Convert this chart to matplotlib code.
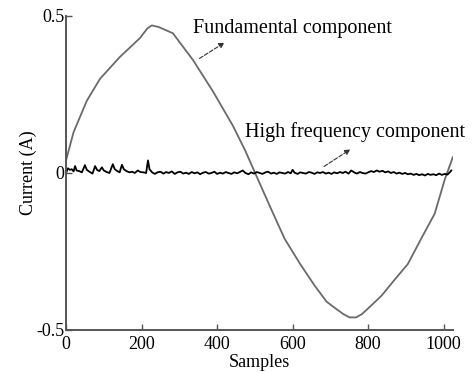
import numpy as np
import matplotlib.pyplot as plt

plt.rcParams['font.family'] = ['Liberation Serif', 'DejaVu Serif']

# fundamental component
fund_x = [0, 20, 55, 90, 143, 196, 215, 227, 245, 283, 336, 389, 442, 475, 508,
          545, 579, 620, 659, 690, 712, 735, 751, 768, 783, 810, 836, 870, 905,
          940, 976, 1003, 1024]
fund_y = [0.04, 0.13, 0.23, 0.30, 0.37, 0.43, 0.46, 0.47, 0.465, 0.445, 0.36,
          0.26, 0.15, 0.07, -0.02, -0.12, -0.21, -0.29, -0.36, -0.41, -0.43,
          -0.45, -0.46, -0.46, -0.45, -0.42, -0.39, -0.34, -0.29, -0.21, -0.13,
          -0.02, 0.05]

# high frequency component
hf_x = [0, 5, 10, 15, 20, 24, 28, 35, 42, 50, 55, 62, 70, 77, 82, 88, 95, 100,
        108, 115, 124, 129, 136, 142, 148, 153, 160, 168, 175, 182, 190, 197,
        205, 212, 217, 221, 228, 235, 242, 250, 258, 265, 272, 280, 288, 295,
        303, 310, 318, 325, 333, 340, 348, 355, 363, 370, 378, 385, 393, 400,
        408, 415, 423, 430, 438, 445, 453, 460, 468, 475, 483, 490, 498, 505,
        513, 520, 528, 535, 543, 550, 558, 565, 573, 580, 588, 595, 600, 605,
        613, 620, 628, 635, 643, 650, 658, 665, 673, 680, 688, 695, 703, 710,
        718, 725, 733, 740, 748, 755, 763, 770, 778, 785, 793, 800, 808, 815,
        823, 830, 838, 845, 853, 860, 868, 875, 883, 890, 898, 905, 913, 920,
        928, 935, 943, 950, 958, 965, 973, 980, 988, 995, 1003, 1010, 1016, 1020]
hf_y = [0.000, 0.015, 0.010, 0.012, 0.005, 0.022, 0.008, 0.006, 0.002, 0.025,
        0.010, 0.004, -0.002, 0.022, 0.010, 0.006, 0.018, 0.008, 0.003, 0.000,
        0.028, 0.012, 0.006, 0.002, 0.026, 0.012, 0.006, 0.002, 0.004, 0.000,
        0.008, 0.003, 0.002, 0.000, 0.040, 0.012, 0.002, -0.003, 0.002, 0.004,
        -0.002, 0.003, 0.000, 0.005, -0.003, 0.002, 0.004, -0.002, 0.001,
        -0.003, 0.003, -0.001, 0.002, -0.004, 0.001, 0.003, -0.002, 0.000,
        0.004, -0.003, 0.001, -0.002, 0.003, 0.000, -0.003, 0.002, -0.001,
        0.003, 0.008, 0.000, -0.004, 0.002, -0.002, 0.003, 0.000, -0.003,
        0.002, 0.004, -0.002, 0.001, -0.003, 0.002, 0.000, -0.002, 0.003,
        -0.001, 0.010, 0.001, -0.003, 0.002, 0.000, -0.002, 0.003, 0.001,
        -0.003, 0.002, 0.000, 0.003, -0.002, 0.001, -0.003, 0.002, -0.001,
        0.003, 0.000, 0.004, -0.002, 0.008, 0.002, -0.002, 0.003, 0.000,
        -0.002, 0.002, 0.006, 0.003, 0.008, 0.004, 0.007, 0.002, 0.005, 0.000,
        0.003, -0.002, 0.001, -0.003, 0.000, -0.004, -0.002, -0.006, -0.003,
        -0.007, -0.004, -0.008, -0.003, -0.006, -0.004, -0.007, -0.002, -0.006,
        -0.003, -0.005, 0.002, 0.008]

fig = plt.figure(figsize=(4.75, 3.72), dpi=100)
ax = fig.add_axes([0.139, 0.113, 0.815, 0.844])

ax.plot(fund_x, fund_y, color='#6a6a6a', lw=1.3)
ax.plot(hf_x, hf_y, color='black', lw=1.3)

ax.set_xlim(0, 1025)
ax.set_ylim(-0.5, 0.5)
ax.set_xticks([0, 200, 400, 600, 800, 1000])
ax.set_yticks([-0.5, 0, 0.5])
ax.set_yticklabels(['-0.5', '0', '0.5'])
ax.tick_params(direction='in', length=4, width=1, color='#555555',
               labelsize=13)
ax.tick_params(axis='x', pad=4)
ax.tick_params(axis='y', pad=1)
for s in ['top', 'right']:
    ax.spines[s].set_visible(False)
for s in ['left', 'bottom']:
    ax.spines[s].set_color('#555555')
    ax.spines[s].set_linewidth(1.4)

ax.set_xlabel('Samples', fontsize=13, labelpad=1)
ax.set_ylabel('Current (A)', fontsize=13, labelpad=0)

ax.annotate('', xy=(426, 0.42), xytext=(347, 0.36),
            arrowprops=dict(arrowstyle='-|>', linestyle='--', color='#333333',
                            lw=0.8, mutation_scale=8))
ax.text(336, 0.46, 'Fundamental component', fontsize=14.5, va='center')
ax.annotate('', xy=(759, 0.08), xytext=(677, 0.016),
            arrowprops=dict(arrowstyle='-|>', linestyle='--', color='#333333',
                            lw=0.8, mutation_scale=8))
ax.text(474, 0.13, 'High frequency component', fontsize=14.5, va='center')

fig.savefig('out.png', dpi=100)
